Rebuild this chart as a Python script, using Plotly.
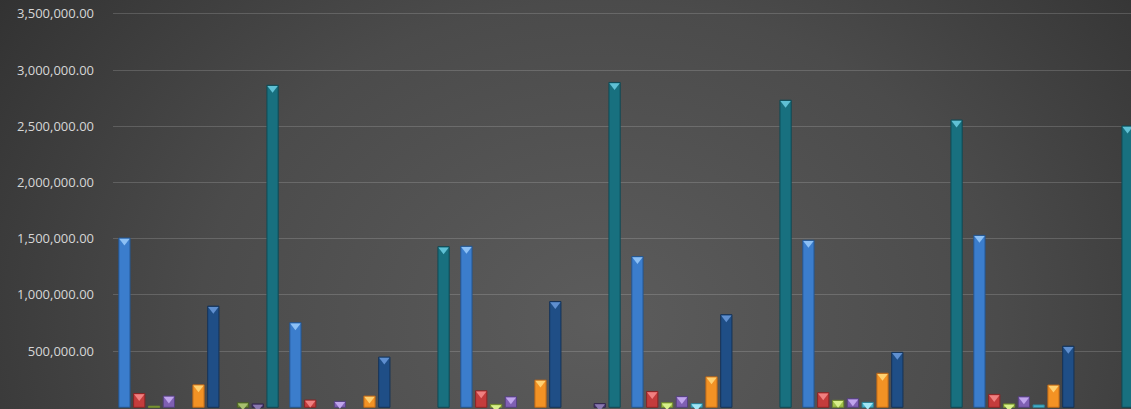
import base64
import plotly.graph_objects as go

categories = ["1", "2", "3", "4", "5", "6"]

series_names = ["S1", "S2", "S3", "S4", "S5", "S6", "S7", "S8", "S9", "S10", "S11"]

s1 = [1506000, 753000, 1433000, 1341000, 1486000, 1530000]
s2 = [123000, 65000, 147000, 141000, 130000, 115000]
s3 = [10000, 0, 26000, 41000, 62000, 30000]
s4 = [100000, 53000, 94000, 97000, 77000, 94000]
s5 = [0, 0, 0, 33000, 44000, 21000]
s6 = [200000, 100000, 242000, 271000, 303000, 198000]
s7 = [900000, 447000, 941000, 824000, 489000, 544000]
s8 = [0, 0, 0, 0, 0, 0]
s9 = [41000, 0, 0, 0, 0, 0]
s10 = [30000, 0, 33000, 0, 0, 0]
s11 = [2865000, 1429000, 2890000, 2732000, 2556000, 2503000]

series_values = [s1, s2, s3, s4, s5, s6, s7, s8, s9, s10, s11]

bar_colors = ["#3b7dcc", "#c43c3c", "#9fc04a", "#7f5fb3", "#46b8d2", "#f39224",
              "#1f4e86", "#7a2b2a", "#6c8a38", "#4b3a72", "#18707f"]
edge_colors = ["#25568f", "#8a2526", "#6f8a2c", "#55407f", "#2d8196", "#b8661a",
               "#143258", "#521c1b", "#4a6026", "#32264d", "#0f4954"]
cap_colors = ["#8cc0f5", "#f08080", "#d8f08a", "#c0a4ec", "#a2e6f6", "#ffd070",
              "#5f8fcf", "#b06060", "#a8c070", "#8a78b0", "#5fc0d4"]

W, H = 1131, 409
ML = 113
BARGAP = 0.047

fig = go.Figure()
for i, (name, vals) in enumerate(zip(series_names, series_values)):
    shown = [v if v > 0 else None for v in vals]
    fig.add_trace(go.Bar(
        name=name, x=categories, y=shown, offsetgroup=str(i),
        marker=dict(color=bar_colors[i], line=dict(color=edge_colors[i], width=1)),
        hoverinfo="y",
    ))
for i, (name, vals) in enumerate(zip(series_names, series_values)):
    caps = [v if v >= 25000 else None for v in vals]
    fig.add_trace(go.Scatter(
        name=name + " cap", x=categories, y=caps, mode="markers",
        offsetgroup=str(i), showlegend=False, hoverinfo="skip",
        marker=dict(symbol="triangle-down", size=9, color=cap_colors[i],
                    standoff=3, line=dict(width=0)),
        cliponaxis=True,
    ))

svg = (
    '<svg xmlns="http://www.w3.org/2000/svg" width="1131" height="409" '
    'preserveAspectRatio="none" viewBox="0 0 1131 409">'
    '<defs><radialGradient id="g" cx="0.53" cy="0.78" r="0.64" '
    'gradientTransform="translate(0.53 0.78) scale(1 2.2) translate(-0.53 -0.78)">'
    '<stop offset="0" stop-color="#5c5c5c"/>'
    '<stop offset="0.55" stop-color="#4b4b4b"/>'
    '<stop offset="1" stop-color="#323232"/>'
    '</radialGradient></defs>'
    '<rect width="1131" height="409" fill="url(#g)"/></svg>'
)
uri = "data:image/svg+xml;base64," + base64.b64encode(svg.encode()).decode()

pw = W - ML
fig.add_layout_image(dict(
    source=uri, xref="paper", yref="paper",
    x=-ML / pw, y=1, sizex=W / pw, sizey=1,
    xanchor="left", yanchor="top", sizing="stretch", layer="below",
))

fig.update_layout(
    width=W, height=H,
    margin=dict(l=ML, r=0, t=0, b=0, pad=0),
    paper_bgcolor="#444444",
    plot_bgcolor="rgba(0,0,0,0)",
    barmode="group",
    bargap=BARGAP,
    bargroupgap=0.24,
    scattermode="group",
    scattergap=BARGAP,
    showlegend=False,
    xaxis=dict(range=[-0.5, -0.5 + pw / 171.0], showticklabels=False,
               showgrid=False, zeroline=False, showline=False, ticks=""),
    yaxis=dict(range=[-15000, 3623500], tickvals=[500000, 1000000, 1500000, 2000000,
                                                  2500000, 3000000, 3500000],
               tickformat=",.2f", showgrid=True, gridcolor="rgba(255,255,255,0.16)",
               gridwidth=1, zeroline=False, showline=False, ticks="",
               ticklabelstandoff=18,
               tickfont=dict(family="Open Sans", size=13, color="#d6d6d6")),
)

fig.write_html("out.html")
